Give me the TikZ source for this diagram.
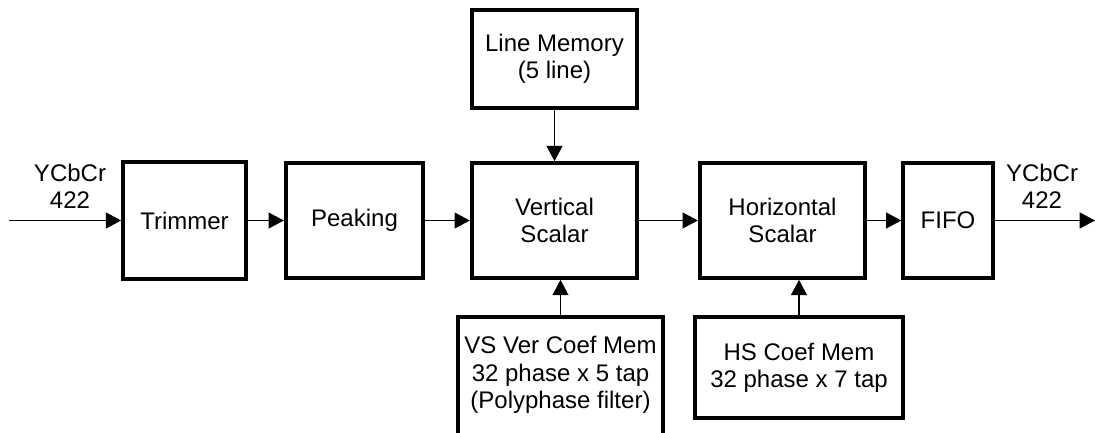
\documentclass[tikz,border=0pt]{standalone}
\usepackage{fontspec}
\setmainfont{Liberation Sans}
\usetikzlibrary{arrows.meta}

\begin{document}
\begin{tikzpicture}[x=0.75pt,y=-0.75pt,
        block/.style={draw,line width=3pt,align=center,inner sep=0pt,
            font=\fontsize{18}{20.5}\selectfont},
        sig/.style={line width=0.9pt,-{Triangle[length=11.5pt,width=12pt]}},
        iolabel/.style={align=center,font=\fontsize{18}{20.5}\selectfont}]

    \useasboundingbox (0,0) rectangle (1095,432);
    \clip (0,0) rectangle (1095,432);

    % Main chain
    \node[block,minimum width=92pt,minimum height=88pt] (trim) at (184.5,220.5) {Trimmer};
    \node[block,minimum width=103pt,minimum height=86pt] (peak) at (354.5,220.5) {Peaking};
    \node[block,minimum width=124pt,minimum height=86pt] (vscal) at (554.5,220.5) {Vertical\\Scalar};
    \node[block,minimum width=124pt,minimum height=86pt] (hscal) at (782.5,220.5) {Horizontal\\Scalar};
    \node[block,minimum width=67pt,minimum height=86pt] (fifo) at (948,220.5) {FIFO};

    % Memories (the VS one runs off the bottom edge)
    \node[block,minimum width=124pt,minimum height=73pt] (linemem) at (554.5,59) {Line Memory\\(5 line)};
    \node[block,minimum width=154pt,minimum height=104pt] (vscoef) at (560.5,386.3) {VS Ver Coef Mem\\32 phase x 5 tap\\(Polyphase filter)\\\mbox{}};
    \node[block,minimum width=156pt,minimum height=76pt] (hscoef) at (799,367.5) {HS Coef Mem\\32 phase x 7 tap};

    % Input and output
    \coordinate (in) at (9,220.5);
    \coordinate (out) at (1095,220.5);
    \node[iolabel] (inlabel) at (70,186) {YCbCr\\422};
    \node[iolabel] (outlabel) at (1042,186) {YCbCr\\422};

    % Edges in main chain
    \draw[sig] (in) -- (trim);
    \draw[sig] (trim) -- (peak);
    \draw[sig] (peak) -- (vscal);
    \draw[sig] (vscal) -- (hscal);
    \draw[sig] (hscal) -- (fifo);
    \draw[sig] (fifo) -- (out);

    % Edges from memories
    \draw[sig] (linemem) -- (vscal);
    \draw[sig] (vscoef.north) -- (vscoef.north |- vscal.south);
    \draw[sig] (hscoef.north) -- (hscoef.north |- hscal.south);
\end{tikzpicture}
\end{document}
